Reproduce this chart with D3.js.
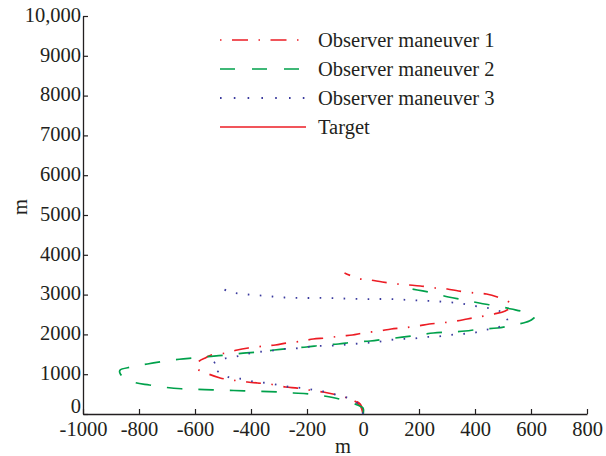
<!DOCTYPE html>
<html>
<head>
<meta charset="utf-8">
<script src="https://cdn.jsdelivr.net/npm/d3@7"></script>
<style>
  body { margin: 0; background: #fff; }
  text { font-family: "Liberation Serif", "DejaVu Serif", serif; fill: #231f20; }
</style>
</head>
<body>
<div id="chart"></div>
<script>
// tick values
var xTicks = [-1000, -800, -600, -400, -200, 0, 200, 400, 600, 800];
var xTickLabels = ["-1000", "-800", "-600", "-400", "-200", "0", "200", "400", "600", "800"];
var yTicks = [0, 1000, 2000, 3000, 4000, 5000, 6000, 7000, 8000, 9000, 10000];
var yTickLabels = ["0", "1000", "2000", "3000", "4000", "5000", "6000", "7000", "8000", "9000", "10,000"];

var seriesNames = ["Observer maneuver 1", "Observer maneuver 2", "Observer maneuver 3", "Target"];

// positions in metres [x, y]
var observer1 = [[0, 0], [-10, 250], [-56, 400], [-92, 477], [-142, 553], [-195, 603], [-234, 650],
  [-277, 678], [-334, 754], [-377, 779], [-413, 804], [-467, 854], [-510, 905], [-552, 1005],
  [-590, 1120], [-598, 1200], [-585, 1330], [-560, 1420], [-542, 1482], [-488, 1533], [-449, 1608],
  [-410, 1658], [-352, 1709], [-313, 1734], [-270, 1784], [-213, 1834], [-178, 1884], [-131, 1910],
  [-78, 1960], [-38, 1985], [1, 2035], [58, 2085], [101, 2136], [140, 2161], [194, 2211],
  [237, 2261], [276, 2286], [333, 2337], [372, 2387], [412, 2437], [469, 2513], [508, 2588],
  [532, 2700], [526, 2789], [480, 2940], [441, 3015], [398, 3040], [341, 3090], [301, 3141],
  [258, 3166], [205, 3216], [166, 3241], [123, 3266], [69, 3317], [26, 3367], [-13, 3400], [-66, 3543]];

var observer2 = [[0, 0], [0, 150], [-20, 226], [-85, 377], [-138, 452], [-195, 503], [-249, 528],
  [-306, 553], [-363, 570], [-424, 580], [-481, 595], [-538, 605], [-592, 620], [-649, 635],
  [-706, 670], [-763, 729], [-820, 804], [-866, 1000], [-868, 1100], [-827, 1181], [-770, 1256],
  [-713, 1320], [-656, 1375], [-602, 1410], [-542, 1450], [-488, 1482], [-428, 1530], [-374, 1558],
  [-317, 1608], [-260, 1650], [-202, 1683], [-145, 1730], [-88, 1759], [-35, 1805], [26, 1834],
  [80, 1880], [140, 1930], [194, 1980], [251, 2035], [308, 2060], [365, 2085], [422, 2136],
  [480, 2161], [537, 2236], [594, 2337], [612, 2437], [587, 2538], [530, 2638], [476, 2714],
  [415, 2789], [362, 2864], [305, 2940], [251, 3040], [194, 3116], [137, 3191]];

var observer3 = [[0, 0], [-17, 251], [-53, 402], [-92, 477], [-131, 553], [-174, 603], [-217, 653],
  [-260, 678], [-302, 729], [-342, 779], [-384, 804], [-427, 879], [-470, 905], [-510, 1030],
  [-538, 1231], [-502, 1382], [-459, 1432], [-416, 1508], [-374, 1558], [-335, 1583], [-288, 1633],
  [-249, 1640], [-202, 1683], [-163, 1709], [-120, 1715], [-77, 1734], [-35, 1759], [8, 1784],
  [51, 1809], [94, 1859], [137, 1884], [180, 1895], [223, 1935], [265, 1945], [308, 1985],
  [351, 2010], [394, 2035], [433, 2111], [476, 2161], [515, 2312], [505, 2513], [465, 2638],
  [422, 2688], [380, 2739], [337, 2789], [294, 2814], [251, 2839], [208, 2850], [165, 2864],
  [123, 2880], [80, 2889], [37, 2889], [-3, 2889], [-49, 2895], [-92, 2910], [-134, 2915],
  [-177, 2915], [-220, 2915], [-262, 2920], [-305, 2940], [-345, 2965], [-388, 2990],
  [-431, 3015], [-474, 3065], [-513, 3191]];

var target = [[0, 0], [-8, 180], [-30, 330]];

var margin = { top: 16, right: 19, bottom: 42, left: 83 },
  width = 606 - margin.left - margin.right,
  height = 456 - margin.top - margin.bottom;

var svg = d3.select("#chart")
  .append("svg")
  .attr("width", 606)
  .attr("height", 456)
  .append("g")
  .attr("transform", "translate(" + margin.left + "," + margin.top + ")");

var x = d3.scaleLinear().domain([-1000, 800]).range([0, width]);
var y = d3.scaleLinear().domain([0, 10000]).range([height, 0]);

var xAxis = d3.axisBottom(x).tickValues(xTicks).tickSize(-5).tickPadding(7).tickSizeOuter(0)
  .tickFormat(function (d, i) { return xTickLabels[i]; });
var yAxis = d3.axisLeft(y).tickValues(yTicks).tickSize(-5).tickPadding(2).tickSizeOuter(0)
  .tickFormat(function (d, i) { return yTickLabels[i]; });

var gx = svg.append("g")
  .attr("transform", "translate(0," + height + ")")
  .call(xAxis);
var gy = svg.append("g").call(yAxis);

[gx, gy].forEach(function (g) {
  g.attr("font-family", null);
  g.select(".domain").attr("stroke", "#231f20").attr("stroke-width", 1.3);
  g.selectAll(".tick line").attr("stroke", "#231f20").attr("stroke-width", 1.2);
  g.selectAll(".tick text").style("font-size", "20.5px").attr("fill", "#231f20");
});
gy.selectAll(".tick text").attr("dy", function (d) { return d === 0 ? "-0.08em" : "0.26em"; });

// axis labels
svg.append("text")
  .attr("x", 260)
  .attr("y", height + 39)
  .attr("text-anchor", "middle")
  .style("font-size", "20.5px")
  .text("m");

svg.append("text")
  .attr("transform", "translate(" + (27 - margin.left) + "," + (207 - margin.top) + ") rotate(-90)")
  .attr("text-anchor", "middle")
  .style("font-size", "20.5px")
  .text("m");

var line = d3.line()
  .x(function (d) { return x(d[0]); })
  .y(function (d) { return y(d[1]); })
  .curve(d3.curveCatmullRom.alpha(0.5));

var styles = [
  { data: observer1, color: "#ec1c24", dash: "15 10.5 1.5 10.5", legendDash: "1.5 10.5 16 10.5", w: 1.7 },
  { data: observer2, color: "#00a14b", dash: "15.5 16", legendDash: "15 17", w: 1.7 },
  { data: observer3, color: "#3b3b9e", dash: "1.6 10.4", legendDash: "1.6 12.2", w: 1.8 },
  { data: target, color: "#ec1c24", dash: null, legendDash: null, w: 1.5 }
];

// target first, observers on top
[3, 0, 1, 2].forEach(function (i) {
  var s = styles[i];
  svg.append("path")
    .datum(s.data)
    .attr("d", line)
    .attr("fill", "none")
    .attr("stroke", s.color)
    .attr("stroke-width", s.w)
    .attr("stroke-dasharray", s.dash);
});

// legend
var legendY = [40, 69, 98, 127];
var legend = svg.append("g").attr("transform", "translate(" + (-margin.left) + "," + (-margin.top) + ")");
seriesNames.forEach(function (name, i) {
  var s = styles[i];
  legend.append("line")
    .attr("x1", 220).attr("x2", 306)
    .attr("y1", legendY[i]).attr("y2", legendY[i])
    .attr("stroke", s.color)
    .attr("stroke-width", s.w)
    .attr("stroke-dasharray", s.legendDash);
  legend.append("text")
    .attr("x", 318)
    .attr("y", legendY[i] + 7)
    .style("font-size", "20.5px")
    .text(name);
});
</script>
</body>
</html>
